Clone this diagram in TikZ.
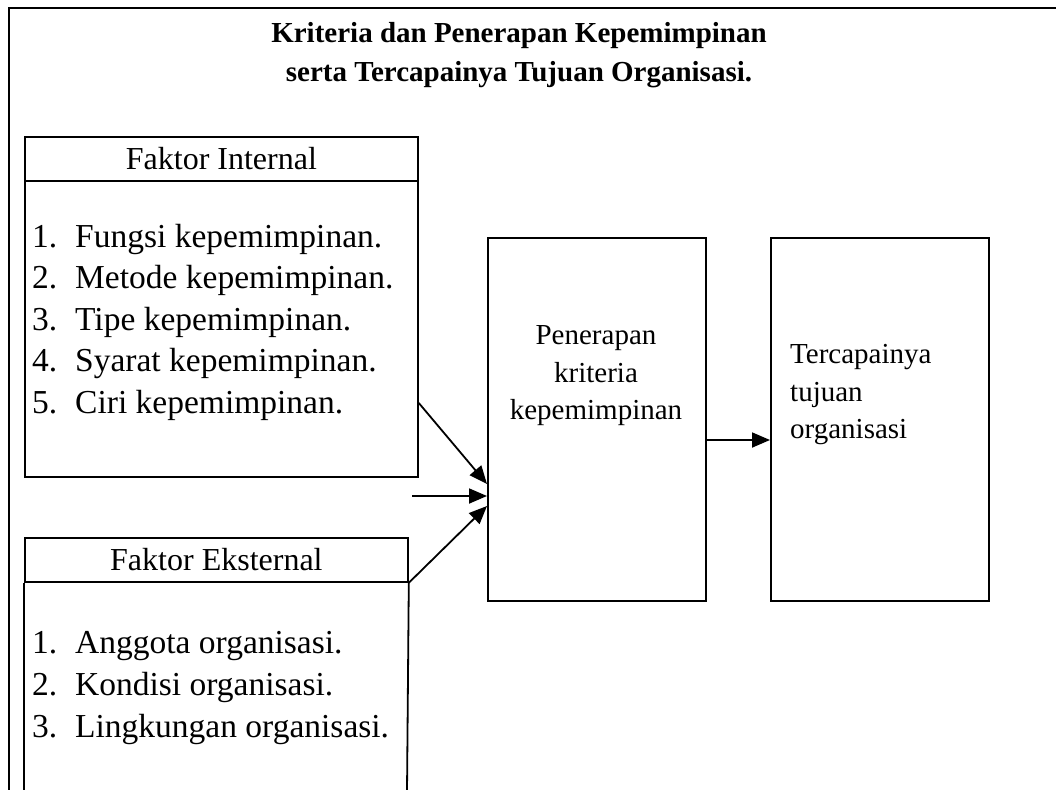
\documentclass[tikz,border=0pt]{standalone}
\usepackage{fontspec}
\setmainfont{Liberation Serif}
\usetikzlibrary{arrows.meta}
\tikzset{
  box/.style={draw=black, line width=1.8pt, rectangle, inner sep=0pt, anchor=north west},
  hdr/.style={box, font=\fontsize{32}{38}\selectfont},
  txt/.style={inner sep=0pt, font=\fontsize{29}{37}\selectfont},
  ttl/.style={inner sep=0pt, anchor=base, font=\fontsize{29}{37}\selectfont\bfseries},
  lst/.style={inner sep=0pt, anchor=base west, font=\fontsize{33.5}{40}\selectfont},
  conn/.style={line width=1.8pt, -{Triangle[length=18pt,width=15pt]}},
  frame/.style={line width=2.2pt}
}
\begin{document}
\begin{tikzpicture}[x=1pt,y=-1pt]
\useasboundingbox (0,0) rectangle (1056,789);
% outer frame (top and left)
\coordinate (fbl) at (9,790);
\coordinate (ftl) at (9,8);
\coordinate (ftr) at (1057,8);
\draw[frame] (fbl) -- (ftl) -- (ftr);
% title
\node[ttl] (t1) at (519,43) {Kriteria dan Penerapan Kepemimpinan};
\node[ttl] (t2) at (519,82) {serta Tercapainya Tujuan Organisasi.};
% internal factor box
\node[hdr, minimum width=393pt, minimum height=44pt] (intHead) at (24,136) {Faktor Internal};
\node[box, minimum width=393pt, minimum height=296pt] (intBody) at (24,180) {};
\foreach \n/\t/\y [count=\i] in {1./Fungsi kepemimpinan./247, 2./Metode kepemimpinan./288.5, 3./Tipe kepemimpinan./330, 4./Syarat kepemimpinan./371.5, 5./Ciri kepemimpinan./413}{
  \node[lst] (inum\i) at (32,\y) {\n};
  \node[lst] (itxt\i) at (75,\y) {\t};
}
% external factor box (open at the bottom)
\node[hdr, minimum width=383pt, minimum height=44pt] (extHead) at (24,537) {Faktor Eksternal};
\coordinate (extBL) at (24,792);
\coordinate (extBR) at (407,792);
\draw[line width=1.8pt] (extHead.south west) -- (extBL);
\draw[line width=1.8pt] (extHead.south east) -- (extBR);
\foreach \n/\t/\y [count=\i] in {1./Anggota organisasi./653, 2./Kondisi organisasi./695, 3./Lingkungan organisasi./737}{
  \node[lst] (enum\i) at (32,\y) {\n};
  \node[lst] (etxt\i) at (75,\y) {\t};
}
% penerapan box
\node[box, minimum width=218pt, minimum height=363pt] (pen) at (487,237) {};
\node[txt, anchor=base] (pen1) at (596,344) {Penerapan};
\node[txt, anchor=base] (pen2) at (596,382) {kriteria};
\node[txt, anchor=base] (pen3) at (596,419) {kepemimpinan};
% tujuan box
\node[box, minimum width=218pt, minimum height=363pt] (tuj) at (770,237) {};
\node[txt, anchor=base west] (tuj1) at (790,363) {Tercapainya};
\node[txt, anchor=base west] (tuj2) at (790,401) {tujuan};
\node[txt, anchor=base west] (tuj3) at (790,438) {organisasi};
% connectors
\coordinate (aIn) at (intBody.east |- 0,403);
\coordinate (aPen1) at (pen.west |- 0,484);
\coordinate (aMid) at (412,496);
\coordinate (aPen2) at (pen.west |- 0,496);
\coordinate (aPen3) at (pen.west |- 0,506);
\coordinate (aPenR) at (pen.east |- 0,440);
\coordinate (aTuj) at (tuj.west |- 0,440);
\draw[conn] (aIn) -- (aPen1);
\draw[conn] (aMid) -- (aPen2);
\draw[conn] (extHead.south east) -- (aPen3);
\draw[conn] (aPenR) -- (aTuj);
\end{tikzpicture}
\end{document}
